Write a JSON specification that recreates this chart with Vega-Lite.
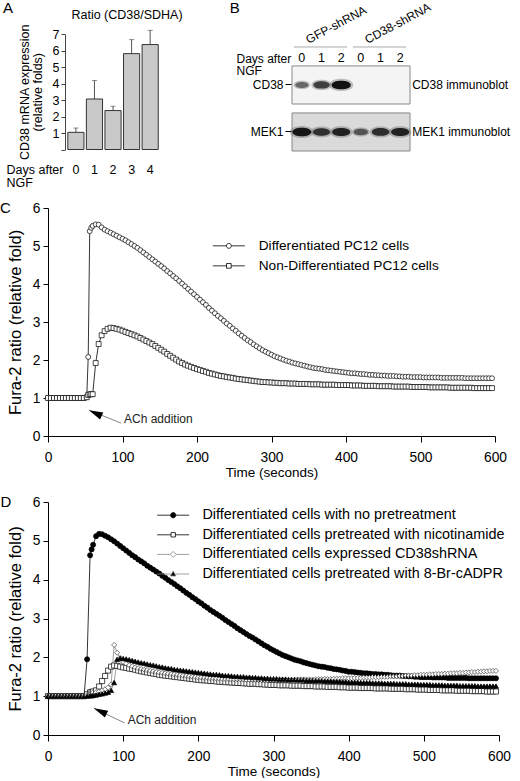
{
"$schema": "https://vega.github.io/schema/vega-lite/v6.json",
"padding": {"left": 0, "top": 0, "right": 0, "bottom": 0},
"config": {
  "font": "Liberation Sans",
  "view": {"stroke": null},
  "axis": {"grid": false, "labelOverlap": false, "domainColor": "#000", "tickColor": "#000", "labelColor": "#000", "titleColor": "#000", "titleFontWeight": "normal", "domainWidth": 1, "tickWidth": 1},
  "axisXQuantitative": {"tickCount": 6, "labelFlush": false, "tickSize": 6, "labelPadding": 8, "labelFontSize": 13.8, "titleFontSize": 13.5, "titlePadding": 1.5},
  "axisYQuantitative": {"tickCount": 7, "tickMinStep": 1, "tickSize": 5, "labelPadding": 3, "labelFontSize": 13.8, "titleFontSize": 16.5, "titlePadding": 9},
  "legend": {"labelColor": "#000"},
  "title": {"fontWeight": "normal", "color": "#000"}
},
"datasets": {
"cdata": [
{"t":0,"d":1,"n":1},{"t":4,"d":1,"n":1},{"t":8,"d":1,"n":1},{"t":12,"d":1,"n":1},{"t":16,"d":1,"n":1},{"t":20,"d":1,"n":1},{"t":24,"d":1,"n":1},{"t":28,"d":1,"n":1},{"t":32,"d":1,"n":1},{"t":36,"d":1,"n":1},{"t":40,"d":1,"n":1},{"t":44,"d":1,"n":1},{"t":48,"d":1,"n":1},
{"t":52,"d":1.02,"n":1.02},{"t":54,"d":2.08,"n":1.08},{"t":56,"d":5.39,"n":1.1},{"t":58,"d":5.48,"n":1.1},{"t":60,"d":5.53,"n":1.1},{"t":64,"d":5.57,"n":1.92},{"t":68,"d":5.56,"n":2.42},{"t":72,"d":5.49,"n":2.65},{"t":76,"d":5.43,"n":2.76},{"t":80,"d":5.39,"n":2.82},{"t":84,"d":5.35,"n":2.85},{"t":88,"d":5.31,"n":2.84},{"t":92,"d":5.27,"n":2.82},{"t":96,"d":5.23,"n":2.8},
{"t":100,"d":5.19,"n":2.77},{"t":104,"d":5.15,"n":2.74},{"t":108,"d":5.1,"n":2.71},{"t":112,"d":5.05,"n":2.68},{"t":116,"d":5,"n":2.65},{"t":120,"d":4.95,"n":2.62},{"t":124,"d":4.89,"n":2.58},{"t":128,"d":4.83,"n":2.54},{"t":132,"d":4.77,"n":2.5},{"t":136,"d":4.71,"n":2.46},{"t":140,"d":4.65,"n":2.42},{"t":144,"d":4.59,"n":2.37},{"t":148,"d":4.53,"n":2.32},
{"t":152,"d":4.47,"n":2.27},{"t":156,"d":4.41,"n":2.22},{"t":160,"d":4.34,"n":2.16},{"t":164,"d":4.28,"n":2.11},{"t":168,"d":4.21,"n":2.06},{"t":172,"d":4.15,"n":2.01},{"t":176,"d":4.08,"n":1.96},{"t":180,"d":4.01,"n":1.92},{"t":184,"d":3.94,"n":1.88},{"t":188,"d":3.87,"n":1.85},{"t":192,"d":3.8,"n":1.82},{"t":196,"d":3.73,"n":1.79},
{"t":200,"d":3.66,"n":1.76},{"t":204,"d":3.59,"n":1.74},{"t":208,"d":3.52,"n":1.71},{"t":212,"d":3.45,"n":1.69},{"t":216,"d":3.37,"n":1.66},{"t":220,"d":3.3,"n":1.64},{"t":224,"d":3.23,"n":1.62},{"t":228,"d":3.16,"n":1.6},{"t":232,"d":3.1,"n":1.58},{"t":236,"d":3.03,"n":1.57},{"t":240,"d":2.96,"n":1.55},{"t":244,"d":2.9,"n":1.54},{"t":248,"d":2.83,"n":1.53},
{"t":252,"d":2.77,"n":1.51},{"t":256,"d":2.7,"n":1.5},{"t":260,"d":2.64,"n":1.49},{"t":264,"d":2.58,"n":1.48},{"t":268,"d":2.52,"n":1.47},{"t":272,"d":2.47,"n":1.46},{"t":276,"d":2.41,"n":1.45},{"t":280,"d":2.36,"n":1.44},{"t":284,"d":2.31,"n":1.43},{"t":288,"d":2.26,"n":1.42},{"t":292,"d":2.22,"n":1.42},{"t":296,"d":2.18,"n":1.41},
{"t":300,"d":2.14,"n":1.41},{"t":304,"d":2.1,"n":1.4},{"t":308,"d":2.07,"n":1.4},{"t":312,"d":2.04,"n":1.39},{"t":316,"d":2.01,"n":1.39},{"t":320,"d":1.98,"n":1.39},{"t":324,"d":1.96,"n":1.38},{"t":328,"d":1.93,"n":1.38},{"t":332,"d":1.91,"n":1.38},{"t":336,"d":1.89,"n":1.37},{"t":340,"d":1.87,"n":1.37},{"t":344,"d":1.85,"n":1.37},{"t":348,"d":1.83,"n":1.37},
{"t":352,"d":1.81,"n":1.36},{"t":356,"d":1.79,"n":1.36},{"t":360,"d":1.78,"n":1.36},{"t":364,"d":1.77,"n":1.36},{"t":368,"d":1.76,"n":1.35},{"t":372,"d":1.74,"n":1.35},{"t":376,"d":1.73,"n":1.35},{"t":380,"d":1.72,"n":1.35},{"t":384,"d":1.71,"n":1.35},{"t":388,"d":1.7,"n":1.34},{"t":392,"d":1.69,"n":1.34},{"t":396,"d":1.68,"n":1.34},
{"t":400,"d":1.67,"n":1.34},{"t":404,"d":1.66,"n":1.34},{"t":408,"d":1.65,"n":1.33},{"t":412,"d":1.65,"n":1.33},{"t":416,"d":1.64,"n":1.33},{"t":420,"d":1.63,"n":1.33},{"t":424,"d":1.63,"n":1.32},{"t":428,"d":1.62,"n":1.32},{"t":432,"d":1.61,"n":1.32},{"t":436,"d":1.61,"n":1.32},{"t":440,"d":1.6,"n":1.32},{"t":444,"d":1.6,"n":1.31},{"t":448,"d":1.59,"n":1.31},
{"t":452,"d":1.59,"n":1.31},{"t":456,"d":1.58,"n":1.31},{"t":460,"d":1.58,"n":1.31},{"t":464,"d":1.58,"n":1.3},{"t":468,"d":1.57,"n":1.3},{"t":472,"d":1.57,"n":1.3},{"t":476,"d":1.56,"n":1.3},{"t":480,"d":1.56,"n":1.3},{"t":484,"d":1.56,"n":1.3},{"t":488,"d":1.55,"n":1.29},{"t":492,"d":1.55,"n":1.29},{"t":496,"d":1.55,"n":1.29},
{"t":500,"d":1.55,"n":1.29},{"t":504,"d":1.54,"n":1.29},{"t":508,"d":1.54,"n":1.29},{"t":512,"d":1.54,"n":1.28},{"t":516,"d":1.54,"n":1.28},{"t":520,"d":1.54,"n":1.28},{"t":524,"d":1.54,"n":1.28},{"t":528,"d":1.53,"n":1.28},{"t":532,"d":1.53,"n":1.28},{"t":536,"d":1.53,"n":1.28},{"t":540,"d":1.53,"n":1.27},{"t":544,"d":1.53,"n":1.27},{"t":548,"d":1.53,"n":1.27},
{"t":552,"d":1.53,"n":1.27},{"t":556,"d":1.53,"n":1.27},{"t":560,"d":1.52,"n":1.27},{"t":564,"d":1.52,"n":1.27},{"t":568,"d":1.52,"n":1.27},{"t":572,"d":1.52,"n":1.26},{"t":576,"d":1.52,"n":1.26},{"t":580,"d":1.52,"n":1.26},{"t":584,"d":1.52,"n":1.26},{"t":588,"d":1.52,"n":1.26},{"t":592,"d":1.52,"n":1.26},{"t":596,"d":1.52,"n":1.26}
],
"ddata": [
{"t":0,"a":1,"b":1,"c":1,"e":1},{"t":4,"a":1,"b":1,"c":1,"e":1},{"t":8,"a":1,"b":1,"c":1,"e":1},{"t":12,"a":1,"b":1,"c":1,"e":1},{"t":16,"a":1,"b":1,"c":1,"e":1},{"t":20,"a":1,"b":1,"c":1,"e":1},{"t":24,"a":1,"b":1,"c":1,"e":1},{"t":28,"a":1,"b":1,"c":1,"e":1},{"t":32,"a":1,"b":1,"c":1,"e":1},{"t":36,"a":1,"b":1,"c":1,"e":1},{"t":40,"a":1,"b":1,"c":1,"e":1},{"t":44,"a":1,"b":1,"c":1,"e":1},{"t":48,"a":1,"b":1,"c":1,"e":1},
{"t":52,"a":1.95,"b":1.05,"c":1.03,"e":1},{"t":56,"a":4.63,"b":1.1,"c":1.08,"e":1.01},{"t":58,"a":4.78,"b":1.11,"c":1.09,"e":1.01},{"t":60,"a":4.9,"b":1.12,"c":1.1,"e":1.02},{"t":64,"a":5.12,"b":1.15,"c":1.1,"e":1.03},{"t":68,"a":5.18,"b":1.25,"c":1.12,"e":1.05},{"t":72,"a":5.17,"b":1.39,"c":1.15,"e":1.06},{"t":76,"a":5.13,"b":1.52,"c":1.18,"e":1.08},{"t":80,"a":5.09,"b":1.66,"c":1.22,"e":1.1},{"t":84,"a":5.04,"b":1.76,"c":1.3,"e":1.15},{"t":88,"a":4.99,"b":1.79,"c":2.32,"e":1.35},{"t":92,"a":4.93,"b":1.78,"c":2.12,"e":1.95},{"t":96,"a":4.87,"b":1.76,"c":1.98,"e":1.98},
{"t":100,"a":4.81,"b":1.74,"c":1.88,"e":1.97},{"t":104,"a":4.75,"b":1.73,"c":1.84,"e":1.96},{"t":108,"a":4.69,"b":1.71,"c":1.8,"e":1.94},{"t":112,"a":4.63,"b":1.7,"c":1.77,"e":1.92},{"t":116,"a":4.58,"b":1.68,"c":1.74,"e":1.9},{"t":120,"a":4.52,"b":1.66,"c":1.72,"e":1.88},{"t":124,"a":4.47,"b":1.64,"c":1.7,"e":1.86},{"t":128,"a":4.42,"b":1.63,"c":1.68,"e":1.85},{"t":132,"a":4.36,"b":1.61,"c":1.67,"e":1.83},{"t":136,"a":4.31,"b":1.6,"c":1.65,"e":1.81},{"t":140,"a":4.26,"b":1.58,"c":1.64,"e":1.8},{"t":144,"a":4.21,"b":1.57,"c":1.62,"e":1.78},{"t":148,"a":4.16,"b":1.55,"c":1.61,"e":1.76},
{"t":152,"a":4.1,"b":1.54,"c":1.6,"e":1.75},{"t":156,"a":4.05,"b":1.53,"c":1.59,"e":1.73},{"t":160,"a":3.99,"b":1.52,"c":1.58,"e":1.72},{"t":164,"a":3.94,"b":1.51,"c":1.57,"e":1.71},{"t":168,"a":3.89,"b":1.5,"c":1.56,"e":1.69},{"t":172,"a":3.83,"b":1.49,"c":1.55,"e":1.68},{"t":176,"a":3.78,"b":1.48,"c":1.54,"e":1.67},{"t":180,"a":3.72,"b":1.47,"c":1.53,"e":1.66},{"t":184,"a":3.66,"b":1.46,"c":1.52,"e":1.65},{"t":188,"a":3.61,"b":1.45,"c":1.51,"e":1.64},{"t":192,"a":3.55,"b":1.44,"c":1.5,"e":1.63},{"t":196,"a":3.5,"b":1.43,"c":1.49,"e":1.62},
{"t":200,"a":3.44,"b":1.42,"c":1.48,"e":1.61},{"t":204,"a":3.39,"b":1.41,"c":1.48,"e":1.6},{"t":208,"a":3.33,"b":1.41,"c":1.47,"e":1.59},{"t":212,"a":3.28,"b":1.4,"c":1.47,"e":1.58},{"t":216,"a":3.22,"b":1.39,"c":1.46,"e":1.57},{"t":220,"a":3.17,"b":1.39,"c":1.46,"e":1.56},{"t":224,"a":3.12,"b":1.38,"c":1.45,"e":1.56},{"t":228,"a":3.07,"b":1.37,"c":1.45,"e":1.55},{"t":232,"a":3.02,"b":1.37,"c":1.44,"e":1.54},{"t":236,"a":2.96,"b":1.36,"c":1.44,"e":1.53},{"t":240,"a":2.91,"b":1.36,"c":1.44,"e":1.53},{"t":244,"a":2.86,"b":1.35,"c":1.43,"e":1.52},{"t":248,"a":2.81,"b":1.35,"c":1.43,"e":1.51},
{"t":252,"a":2.75,"b":1.34,"c":1.43,"e":1.51},{"t":256,"a":2.7,"b":1.34,"c":1.43,"e":1.5},{"t":260,"a":2.65,"b":1.33,"c":1.43,"e":1.5},{"t":264,"a":2.6,"b":1.33,"c":1.42,"e":1.49},{"t":268,"a":2.55,"b":1.32,"c":1.42,"e":1.49},{"t":272,"a":2.51,"b":1.32,"c":1.42,"e":1.48},{"t":276,"a":2.46,"b":1.32,"c":1.42,"e":1.48},{"t":280,"a":2.41,"b":1.31,"c":1.42,"e":1.47},{"t":284,"a":2.36,"b":1.31,"c":1.42,"e":1.47},{"t":288,"a":2.31,"b":1.3,"c":1.42,"e":1.46},{"t":292,"a":2.27,"b":1.3,"c":1.42,"e":1.46},{"t":296,"a":2.22,"b":1.29,"c":1.42,"e":1.45},
{"t":300,"a":2.18,"b":1.29,"c":1.42,"e":1.45},{"t":304,"a":2.14,"b":1.29,"c":1.42,"e":1.45},{"t":308,"a":2.1,"b":1.28,"c":1.42,"e":1.44},{"t":312,"a":2.06,"b":1.28,"c":1.42,"e":1.44},{"t":316,"a":2.03,"b":1.28,"c":1.42,"e":1.44},{"t":320,"a":2,"b":1.28,"c":1.42,"e":1.43},{"t":324,"a":1.97,"b":1.27,"c":1.42,"e":1.43},{"t":328,"a":1.94,"b":1.27,"c":1.42,"e":1.43},{"t":332,"a":1.92,"b":1.27,"c":1.43,"e":1.42},{"t":336,"a":1.9,"b":1.27,"c":1.43,"e":1.42},{"t":340,"a":1.87,"b":1.26,"c":1.43,"e":1.42},{"t":344,"a":1.85,"b":1.26,"c":1.43,"e":1.41},{"t":348,"a":1.83,"b":1.26,"c":1.43,"e":1.41},
{"t":352,"a":1.81,"b":1.26,"c":1.43,"e":1.41},{"t":356,"a":1.79,"b":1.25,"c":1.43,"e":1.4},{"t":360,"a":1.77,"b":1.25,"c":1.44,"e":1.4},{"t":364,"a":1.76,"b":1.25,"c":1.44,"e":1.4},{"t":368,"a":1.75,"b":1.25,"c":1.44,"e":1.39},{"t":372,"a":1.73,"b":1.24,"c":1.44,"e":1.39},{"t":376,"a":1.72,"b":1.24,"c":1.44,"e":1.39},{"t":380,"a":1.7,"b":1.24,"c":1.45,"e":1.38},{"t":384,"a":1.69,"b":1.24,"c":1.45,"e":1.38},{"t":388,"a":1.68,"b":1.23,"c":1.45,"e":1.38},{"t":392,"a":1.66,"b":1.23,"c":1.46,"e":1.37},{"t":396,"a":1.65,"b":1.23,"c":1.46,"e":1.37},
{"t":400,"a":1.63,"b":1.22,"c":1.46,"e":1.36},{"t":404,"a":1.63,"b":1.22,"c":1.46,"e":1.36},{"t":408,"a":1.62,"b":1.22,"c":1.47,"e":1.36},{"t":412,"a":1.61,"b":1.22,"c":1.47,"e":1.36},{"t":416,"a":1.6,"b":1.21,"c":1.47,"e":1.35},{"t":420,"a":1.59,"b":1.21,"c":1.48,"e":1.35},{"t":424,"a":1.59,"b":1.21,"c":1.48,"e":1.35},{"t":428,"a":1.58,"b":1.21,"c":1.48,"e":1.35},{"t":432,"a":1.57,"b":1.21,"c":1.49,"e":1.34},{"t":436,"a":1.57,"b":1.2,"c":1.49,"e":1.34},{"t":440,"a":1.56,"b":1.2,"c":1.49,"e":1.34},{"t":444,"a":1.56,"b":1.2,"c":1.5,"e":1.34},{"t":448,"a":1.55,"b":1.2,"c":1.5,"e":1.33},
{"t":452,"a":1.55,"b":1.2,"c":1.5,"e":1.33},{"t":456,"a":1.54,"b":1.19,"c":1.51,"e":1.33},{"t":460,"a":1.53,"b":1.19,"c":1.51,"e":1.33},{"t":464,"a":1.53,"b":1.19,"c":1.51,"e":1.32},{"t":468,"a":1.53,"b":1.19,"c":1.52,"e":1.32},{"t":472,"a":1.52,"b":1.19,"c":1.52,"e":1.32},{"t":476,"a":1.52,"b":1.18,"c":1.53,"e":1.32},{"t":480,"a":1.51,"b":1.18,"c":1.53,"e":1.31},{"t":484,"a":1.51,"b":1.18,"c":1.53,"e":1.31},{"t":488,"a":1.5,"b":1.18,"c":1.54,"e":1.31},{"t":492,"a":1.5,"b":1.17,"c":1.54,"e":1.31},{"t":496,"a":1.49,"b":1.17,"c":1.55,"e":1.3},
{"t":500,"a":1.49,"b":1.17,"c":1.55,"e":1.3},{"t":504,"a":1.49,"b":1.17,"c":1.55,"e":1.3},{"t":508,"a":1.49,"b":1.16,"c":1.56,"e":1.3},{"t":512,"a":1.48,"b":1.16,"c":1.56,"e":1.29},{"t":516,"a":1.48,"b":1.16,"c":1.57,"e":1.29},{"t":520,"a":1.48,"b":1.16,"c":1.57,"e":1.29},{"t":524,"a":1.48,"b":1.15,"c":1.57,"e":1.29},{"t":528,"a":1.48,"b":1.15,"c":1.58,"e":1.28},{"t":532,"a":1.47,"b":1.15,"c":1.58,"e":1.28},{"t":536,"a":1.47,"b":1.15,"c":1.59,"e":1.28},{"t":540,"a":1.47,"b":1.15,"c":1.59,"e":1.28},{"t":544,"a":1.47,"b":1.14,"c":1.59,"e":1.28},{"t":548,"a":1.47,"b":1.14,"c":1.6,"e":1.27},
{"t":552,"a":1.47,"b":1.14,"c":1.6,"e":1.27},{"t":556,"a":1.47,"b":1.14,"c":1.61,"e":1.27},{"t":560,"a":1.46,"b":1.14,"c":1.61,"e":1.27},{"t":564,"a":1.46,"b":1.13,"c":1.62,"e":1.27},{"t":568,"a":1.46,"b":1.13,"c":1.62,"e":1.27},{"t":572,"a":1.46,"b":1.13,"c":1.63,"e":1.26},{"t":576,"a":1.46,"b":1.13,"c":1.63,"e":1.26},{"t":580,"a":1.46,"b":1.13,"c":1.64,"e":1.26},{"t":584,"a":1.46,"b":1.12,"c":1.64,"e":1.26},{"t":588,"a":1.46,"b":1.12,"c":1.65,"e":1.26},{"t":592,"a":1.46,"b":1.12,"c":1.65,"e":1.26},{"t":596,"a":1.46,"b":1.12,"c":1.65,"e":1.26}
]
},
"spacing": 12,
"align": "none",
"resolve": {"scale": {"shape": "independent", "fill": "independent", "stroke": "independent", "color": "independent", "size": "independent", "opacity": "independent"}},
"vconcat": [
{
 "spacing": 46,
 "hconcat": [
  {
   "width": 113, "height": 115.5,
   "data": {"values": [
     {"day": "0", "v": 1.04, "hi": 1.3},
     {"day": "1", "v": 3.06, "hi": 4.18},
     {"day": "2", "v": 2.36, "hi": 2.62},
     {"day": "3", "v": 5.81, "hi": 6.66},
     {"day": "4", "v": 6.36, "hi": 7.22}
   ]},
   "encoding": {
     "x": {"field": "day", "type": "ordinal", "scale": {"type": "band", "paddingInner": 0.13, "paddingOuter": 0.6075, "align": 0.878},
       "axis": {"orient": "bottom", "domain": false, "ticks": false, "labelAngle": 0, "labelPadding": 14, "labelFontSize": 12.5,
         "title": ["Days after", "NGF"], "titleX": -42, "titleY": 14, "titleAlign": "left", "titleBaseline": "top", "titleFontSize": 12.5, "titleLineHeight": 13}}
   },
   "layer": [
     {"mark": {"type": "rule", "color": "#555", "strokeWidth": 1},
      "encoding": {"y": {"field": "v", "type": "quantitative", "scale": {"domain": [0, 7]},
         "axis": {"offset": -17, "tickCount": 7, "labelExpr": "datum.value == 0 ? '' : datum.label", "tickSize": 4, "labelPadding": 2, "labelFontSize": 12.5, "domainColor": "#444", "tickColor": "#444", "title": ["CD38 mRNA expression", "(relative folds)"], "titleFontSize": 12.5, "titlePadding": 8, "titleLineHeight": 13}},
        "y2": {"field": "hi"}}},
     {"mark": {"type": "tick", "color": "#555", "size": 5, "thickness": 1},
      "encoding": {"y": {"field": "hi", "type": "quantitative", "scale": {"domain": [0, 7]},
         "axis": {"offset": -17, "tickCount": 7, "labelExpr": "datum.value == 0 ? '' : datum.label", "tickSize": 4, "labelPadding": 2, "labelFontSize": 12.5, "domainColor": "#444", "tickColor": "#444", "title": ["CD38 mRNA expression", "(relative folds)"], "titleFontSize": 12.5, "titlePadding": 8, "titleLineHeight": 13}}}},
     {"mark": {"type": "bar", "fill": "#c9c9c9", "stroke": "#333", "strokeWidth": 1},
      "encoding": {"y": {"field": "v", "type": "quantitative", "scale": {"domain": [0, 7]},
         "axis": {"offset": -17, "tickCount": 7, "labelExpr": "datum.value == 0 ? '' : datum.label", "tickSize": 4, "labelPadding": 2, "labelFontSize": 12.5, "domainColor": "#444", "tickColor": "#444", "title": ["CD38 mRNA expression", "(relative folds)"], "titleFontSize": 12.5, "titlePadding": 8, "titleLineHeight": 13}}}},
     {"data": {"values": [{"label": "Ratio (CD38/SDHA)"}]},
      "mark": {"type": "text", "fontSize": 12.5, "dx": 14, "baseline": "middle", "color": "#000"},
      "encoding": {"x": {"datum": "2", "type": "ordinal"},
        "y": {"datum": 8.15, "type": "quantitative", "scale": {"domain": [0, 7]},
         "axis": {"offset": -17, "tickCount": 7, "labelExpr": "datum.value == 0 ? '' : datum.label", "tickSize": 4, "labelPadding": 2, "labelFontSize": 12.5, "domainColor": "#444", "tickColor": "#444", "title": ["CD38 mRNA expression", "(relative folds)"], "titleFontSize": 12.5, "titlePadding": 8, "titleLineHeight": 13}},
        "text": {"field": "label"}}},
     {"data": {"values": [{"letter": "A"}]},
      "mark": {"type": "text", "fontSize": 15, "dx": -68, "baseline": "middle", "color": "#000"},
      "encoding": {"x": {"datum": "0", "type": "ordinal"},
        "y": {"datum": 8.55, "type": "quantitative", "scale": {"domain": [0, 7]},
         "axis": {"offset": -17, "tickCount": 7, "labelExpr": "datum.value == 0 ? '' : datum.label", "tickSize": 4, "labelPadding": 2, "labelFontSize": 12.5, "domainColor": "#444", "tickColor": "#444", "title": ["CD38 mRNA expression", "(relative folds)"], "titleFontSize": 12.5, "titlePadding": 8, "titleLineHeight": 13}},
        "text": {"field": "letter"}}}
   ]
  },
  {
   "width": 118, "height": 117,
   "data": {"values": [
     {"blot": "CD38", "lane": "G0", "sig": 0.3},
     {"blot": "CD38", "lane": "G1", "sig": 0.62},
     {"blot": "CD38", "lane": "G2", "sig": 1.0},
     {"blot": "MEK1", "lane": "G0", "sig": 0.95},
     {"blot": "MEK1", "lane": "G1", "sig": 0.72},
     {"blot": "MEK1", "lane": "G2", "sig": 0.85},
     {"blot": "MEK1", "lane": "C0", "sig": 0.4},
     {"blot": "MEK1", "lane": "C1", "sig": 0.75},
     {"blot": "MEK1", "lane": "C2", "sig": 0.85}
   ]},
   "layer": [
     {"data": {"values": [{"blot": "CD38"}, {"blot": "MEK1"}]},
      "mark": {"type": "rect", "stroke": "#888", "strokeWidth": 1},
      "encoding": {
        "y": {"field": "blot", "type": "nominal", "scale": {"domain": ["CD38", "MEK1"], "paddingInner": 0.19, "paddingOuter": 0.34, "align": 1},
          "axis": {"orient": "left", "domain": false, "tickSize": 6, "labelPadding": 2, "offset": 1, "labelFontSize": 12, "title": null}},
        "fill": {"field": "blot", "type": "nominal", "scale": {"domain": ["CD38", "MEK1"], "range": ["#f4f4f4", "#dadada"]}, "legend": null}}},
     {"mark": {"type": "point", "shape": "M-1.25,0C-1.25,-0.85,1.25,-0.85,1.25,0C1.25,0.85,-1.25,0.85,-1.25,0Z", "filled": true, "color": "#555", "opacity": 0.35},
      "encoding": {
        "x": {"field": "lane", "type": "nominal", "scale": {"domain": ["G0", "G1", "G2", "C0", "C1", "C2"]},
          "axis": {"orient": "top", "offset": -32, "domain": false, "ticks": false, "labelPadding": 2, "labelAngle": 0, "labelExpr": "substring(datum.value, 1)", "labelFontSize": 12.5,
            "title": ["Days after", "NGF"], "titleX": -56, "titleY": -12.5, "titleAlign": "left", "titleBaseline": "top", "titleAngle": 0, "titleFontSize": 12, "titleLineHeight": 11.5}},
        "y": {"field": "blot", "type": "nominal"},
        "size": {"field": "sig", "type": "quantitative", "scale": {"domain": [0.3, 1], "range": [170, 370], "zero": false}, "legend": null}}},
     {"mark": {"type": "point", "shape": "M-1,0C-1,-0.6,1,-0.6,1,0C1,0.6,-1,0.6,-1,0Z", "filled": true, "color": "#111"},
      "encoding": {
        "x": {"field": "lane", "type": "nominal"},
        "y": {"field": "blot", "type": "nominal"},
        "size": {"field": "sig", "type": "quantitative", "legend": null},
        "opacity": {"field": "sig", "type": "quantitative", "scale": {"domain": [0.3, 1], "range": [0.5, 1], "zero": false}, "legend": null}}},
     {"data": {"values": [{"blot": "CD38", "lab": "CD38 immunoblot"}, {"blot": "MEK1", "lab": "MEK1 immunoblot"}]},
      "mark": {"type": "text", "align": "left", "baseline": "middle", "fontSize": 12, "color": "#000", "xOffset": 12},
      "encoding": {"x": {"datum": "C2", "type": "nominal"}, "y": {"field": "blot", "type": "nominal"}, "text": {"field": "lab"}}},
     {"data": {"values": [{"lane": "G1", "lab": "GFP-shRNA"}, {"lane": "C1", "lab": "CD38-shRNA"}]},
      "mark": {"type": "text", "align": "left", "baseline": "alphabetic", "angle": 332, "fontSize": 12, "color": "#000", "xOffset": -13, "yOffset": -41},
      "encoding": {"x": {"field": "lane", "type": "nominal"}, "y": {"datum": "CD38", "type": "nominal"}, "text": {"field": "lab"}}},
     {"data": {"values": [{"from": "G0", "to": "G2"}, {"from": "C0", "to": "C2"}]},
      "mark": {"type": "rule", "color": "#aaa", "strokeWidth": 1, "xOffset": -8, "x2Offset": 6, "yOffset": -38},
      "encoding": {"x": {"field": "from", "type": "nominal"}, "x2": {"field": "to"}, "y": {"datum": "CD38", "type": "nominal"}}},
     {"data": {"values": [{"letter": "B"}]},
      "mark": {"type": "text", "fontSize": 15, "xOffset": -67, "yOffset": -77, "baseline": "middle", "color": "#000"},
      "encoding": {"x": {"datum": "G0", "type": "nominal"}, "y": {"datum": "CD38", "type": "nominal"}, "text": {"field": "letter"}}}
   ]
  }
 ]
},
{
 "spacing": 16,
 "resolve": {"scale": {"shape": "independent", "fill": "independent", "stroke": "independent", "color": "independent"}},
 "vconcat": [
  {
   "width": 447, "height": 228,
   "resolve": {"scale": {"shape": "independent"}},
   "layer": [
     {"data": {"name": "cdata"}, "transform": [{"fold": ["d", "n"], "as": ["s", "v"]}],
      "mark": {"type": "line", "color": "#000", "strokeWidth": 0.8},
      "encoding": {
        "x": {"field": "t", "type": "quantitative", "scale": {"domain": [0, 600]}, "axis": {"title": "Time (seconds)"}},
        "y": {"field": "v", "type": "quantitative", "scale": {"domain": [0, 6]}, "axis": {"title": "Fura-2 ratio (relative fold)"}},
        "detail": {"field": "s"}}},
     {"data": {"name": "cdata"}, "transform": [{"fold": ["d", "n"], "as": ["s", "v"]}],
      "mark": {"type": "point", "filled": true, "fill": "#fff", "stroke": "#000", "strokeWidth": 0.7, "size": 24, "opacity": 1},
      "encoding": {
        "x": {"field": "t", "type": "quantitative", "scale": {"domain": [0, 600]}, "axis": {"title": "Time (seconds)"}},
        "y": {"field": "v", "type": "quantitative", "scale": {"domain": [0, 6]}, "axis": {"title": "Fura-2 ratio (relative fold)"}},
        "shape": {"field": "s", "type": "nominal", "scale": {"domain": ["d", "n"], "range": ["circle", "square"]}, "legend": null}}},
     {"data": {"values": [{"lg": "d"}, {"lg": "n"}]}, "transform": [{"filter": "false"}],
      "mark": {"type": "point", "filled": true, "fill": "#fff", "stroke": "#000", "strokeWidth": 0.8, "size": 64, "opacity": 1},
      "encoding": {"shape": {"field": "lg", "type": "nominal",
        "scale": {"domain": ["d", "n"], "range": ["M-4,0H-0.62M0.62,0H4M0.62,0A0.62,0.62,0,1,1,-0.62,0A0.62,0.62,0,1,1,0.62,0Z", "M-4,0H-0.58M0.58,0H4M-0.58,-0.58H0.58V0.58H-0.58Z"]},
        "legend": {"orient": "none", "legendX": 174, "legendY": 31, "title": null, "direction": "vertical", "padding": 0,
          "labelFontSize": 13.7, "labelOffset": 23, "labelLimit": 400, "symbolSize": 64, "symbolStrokeWidth": 0.8, "symbolOpacity": 1, "rowPadding": 5,
          "labelExpr": "datum.value == 'd' ? 'Differentiated PC12 cells' : 'Non-Differentiated PC12 cells'"}}}},
     {"data": {"values": [{"t": 55, "v": 0.68, "t2": 98, "v2": 0.34}]}, "mark": {"type": "rule", "color": "#666", "strokeWidth": 0.8},
      "encoding": {"x": {"field": "t", "type": "quantitative", "scale": {"domain": [0, 600]}, "axis": {"title": "Time (seconds)"}}, "y": {"field": "v", "type": "quantitative", "scale": {"domain": [0, 6]}, "axis": {"title": "Fura-2 ratio (relative fold)"}}, "x2": {"field": "t2"}, "y2": {"field": "v2"}}},
     {"data": {"values": [{"t": 55, "v": 0.68}]}, "mark": {"type": "point", "shape": "M0,0L0.55,2L-0.55,2Z", "filled": true, "color": "#000", "size": 196, "angle": 295, "opacity": 1},
      "encoding": {"x": {"field": "t", "type": "quantitative", "scale": {"domain": [0, 600]}, "axis": {"title": "Time (seconds)"}}, "y": {"field": "v", "type": "quantitative", "scale": {"domain": [0, 6]}, "axis": {"title": "Fura-2 ratio (relative fold)"}}}},
     {"data": {"values": [{"t": 102, "v": 0.45, "label": "ACh addition"}]}, "mark": {"type": "text", "align": "left", "baseline": "middle", "fontSize": 12, "color": "#222"},
      "encoding": {"x": {"field": "t", "type": "quantitative", "scale": {"domain": [0, 600]}, "axis": {"title": "Time (seconds)"}}, "y": {"field": "v", "type": "quantitative", "scale": {"domain": [0, 6]}, "axis": {"title": "Fura-2 ratio (relative fold)"}}, "text": {"field": "label"}}},
     {"data": {"values": [{"t": -57, "v": 6, "label": "C"}]}, "mark": {"type": "text", "align": "center", "baseline": "middle", "fontSize": 15, "color": "#000"},
      "encoding": {"x": {"field": "t", "type": "quantitative", "scale": {"domain": [0, 600]}, "axis": {"title": "Time (seconds)"}}, "y": {"field": "v", "type": "quantitative", "scale": {"domain": [0, 6]}, "axis": {"title": "Fura-2 ratio (relative fold)"}}, "text": {"field": "label"}}}
   ]
  },
  {
   "width": 451, "height": 233,
   "resolve": {"scale": {"shape": "independent", "fill": "independent", "stroke": "independent"}},
   "layer": [
     {"data": {"name": "ddata"}, "transform": [{"fold": ["a", "b", "c", "e"], "as": ["s", "v"]}],
      "mark": {"type": "line", "strokeWidth": 0.8},
      "encoding": {
        "x": {"field": "t", "type": "quantitative", "scale": {"domain": [0, 600]}, "axis": {"title": "Time (seconds)"}},
        "y": {"field": "v", "type": "quantitative", "scale": {"domain": [0, 6]}, "axis": {"title": "Fura-2 ratio (relative fold)"}},
        "detail": {"field": "s"},
        "color": {"field": "s", "type": "nominal", "scale": {"domain": ["a", "b", "c", "e"], "range": ["#000", "#000", "#888", "#888"]}, "legend": null}}},
     {"data": {"name": "ddata"}, "transform": [{"fold": ["a", "b", "c", "e"], "as": ["s", "v"]}],
      "mark": {"type": "point", "filled": true, "strokeWidth": 0.7, "size": 26, "opacity": 1},
      "encoding": {
        "x": {"field": "t", "type": "quantitative", "scale": {"domain": [0, 600]}, "axis": {"title": "Time (seconds)"}},
        "y": {"field": "v", "type": "quantitative", "scale": {"domain": [0, 6]}, "axis": {"title": "Fura-2 ratio (relative fold)"}},
        "fill": {"field": "s", "type": "nominal", "scale": {"domain": ["a", "b", "c", "e"], "range": ["#000", "#fff", "#fff", "#000"]}, "legend": null},
        "stroke": {"field": "s", "type": "nominal", "scale": {"domain": ["a", "b", "c", "e"], "range": ["#000", "#000", "#444", "#000"]}, "legend": null},
        "shape": {"field": "s", "type": "nominal", "scale": {"domain": ["a", "b", "c", "e"], "range": ["circle", "square", "diamond", "triangle-up"]}, "legend": null}}},
     {"data": {"values": [{"lg": "a"}, {"lg": "b"}, {"lg": "c"}, {"lg": "e"}]}, "transform": [{"filter": "false"}],
      "mark": {"type": "point", "filled": true, "strokeWidth": 0.8, "size": 64, "opacity": 1},
      "encoding": {
        "shape": {"field": "lg", "type": "nominal",
          "scale": {"domain": ["a", "b", "c", "e"], "range": ["M-4,0H-0.65M0.65,0H4M0.65,0A0.65,0.65,0,1,1,-0.65,0A0.65,0.65,0,1,1,0.65,0Z", "M-4,0H-0.55M0.55,0H4M-0.55,-0.55H0.55V0.55H-0.55Z", "M-4,0H-0.75M0.75,0H4M0,-0.75L0.75,0L0,0.75L-0.75,0Z", "M-4,0H-0.6M0.6,0H4M0,-0.75L0.7,0.5L-0.7,0.5Z"]},
          "legend": {"orient": "none", "legendX": 118, "legendY": 6, "title": null, "direction": "vertical", "padding": 0,
            "labelFontSize": 14.4, "labelOffset": 22, "labelLimit": 400, "symbolSize": 64, "symbolStrokeWidth": 0.8, "symbolOpacity": 1, "rowPadding": 4.6,
            "labelExpr": "datum.value == 'a' ? 'Differentiated cells with no pretreatment' : datum.value == 'b' ? 'Differentiated cells pretreated with nicotinamide' : datum.value == 'c' ? 'Differentiated cells expressed CD38shRNA' : 'Differentiated cells pretreated with 8-Br-cADPR'"}},
        "fill": {"field": "lg", "type": "nominal", "scale": {"domain": ["a", "b", "c", "e"], "range": ["#000", "#fff", "#fff", "#000"]},
          "legend": {"orient": "none", "legendX": 118, "legendY": 6, "title": null, "direction": "vertical", "padding": 0,
            "labelFontSize": 14.4, "labelOffset": 22, "labelLimit": 400, "symbolSize": 64, "symbolStrokeWidth": 0.8, "symbolOpacity": 1, "rowPadding": 4.6,
            "labelExpr": "datum.value == 'a' ? 'Differentiated cells with no pretreatment' : datum.value == 'b' ? 'Differentiated cells pretreated with nicotinamide' : datum.value == 'c' ? 'Differentiated cells expressed CD38shRNA' : 'Differentiated cells pretreated with 8-Br-cADPR'"}},
        "stroke": {"field": "lg", "type": "nominal", "scale": {"domain": ["a", "b", "c", "e"], "range": ["#000", "#000", "#888", "#888"]},
          "legend": {"orient": "none", "legendX": 118, "legendY": 6, "title": null, "direction": "vertical", "padding": 0,
            "labelFontSize": 14.4, "labelOffset": 22, "labelLimit": 400, "symbolSize": 64, "symbolStrokeWidth": 0.8, "symbolOpacity": 1, "rowPadding": 4.6,
            "labelExpr": "datum.value == 'a' ? 'Differentiated cells with no pretreatment' : datum.value == 'b' ? 'Differentiated cells pretreated with nicotinamide' : datum.value == 'c' ? 'Differentiated cells expressed CD38shRNA' : 'Differentiated cells pretreated with 8-Br-cADPR'"}}}},
     {"data": {"values": [{"t": 61, "v": 0.69, "t2": 102, "v2": 0.31}]}, "mark": {"type": "rule", "color": "#666", "strokeWidth": 0.8},
      "encoding": {"x": {"field": "t", "type": "quantitative", "scale": {"domain": [0, 600]}, "axis": {"title": "Time (seconds)"}}, "y": {"field": "v", "type": "quantitative", "scale": {"domain": [0, 6]}, "axis": {"title": "Fura-2 ratio (relative fold)"}}, "x2": {"field": "t2"}, "y2": {"field": "v2"}}},
     {"data": {"values": [{"t": 61, "v": 0.69}]}, "mark": {"type": "point", "shape": "M0,0L0.55,2L-0.55,2Z", "filled": true, "color": "#000", "size": 196, "angle": 295, "opacity": 1},
      "encoding": {"x": {"field": "t", "type": "quantitative", "scale": {"domain": [0, 600]}, "axis": {"title": "Time (seconds)"}}, "y": {"field": "v", "type": "quantitative", "scale": {"domain": [0, 6]}, "axis": {"title": "Fura-2 ratio (relative fold)"}}}},
     {"data": {"values": [{"t": 106, "v": 0.39, "label": "ACh addition"}]}, "mark": {"type": "text", "align": "left", "baseline": "middle", "fontSize": 12, "color": "#222"},
      "encoding": {"x": {"field": "t", "type": "quantitative", "scale": {"domain": [0, 600]}, "axis": {"title": "Time (seconds)"}}, "y": {"field": "v", "type": "quantitative", "scale": {"domain": [0, 6]}, "axis": {"title": "Fura-2 ratio (relative fold)"}}, "text": {"field": "label"}}},
     {"data": {"values": [{"t": -56, "v": 6, "label": "D"}]}, "mark": {"type": "text", "align": "center", "baseline": "middle", "fontSize": 15, "color": "#000"},
      "encoding": {"x": {"field": "t", "type": "quantitative", "scale": {"domain": [0, 600]}, "axis": {"title": "Time (seconds)"}}, "y": {"field": "v", "type": "quantitative", "scale": {"domain": [0, 6]}, "axis": {"title": "Fura-2 ratio (relative fold)"}}, "text": {"field": "label"}}}
   ]
  }
 ]
}
]
}
